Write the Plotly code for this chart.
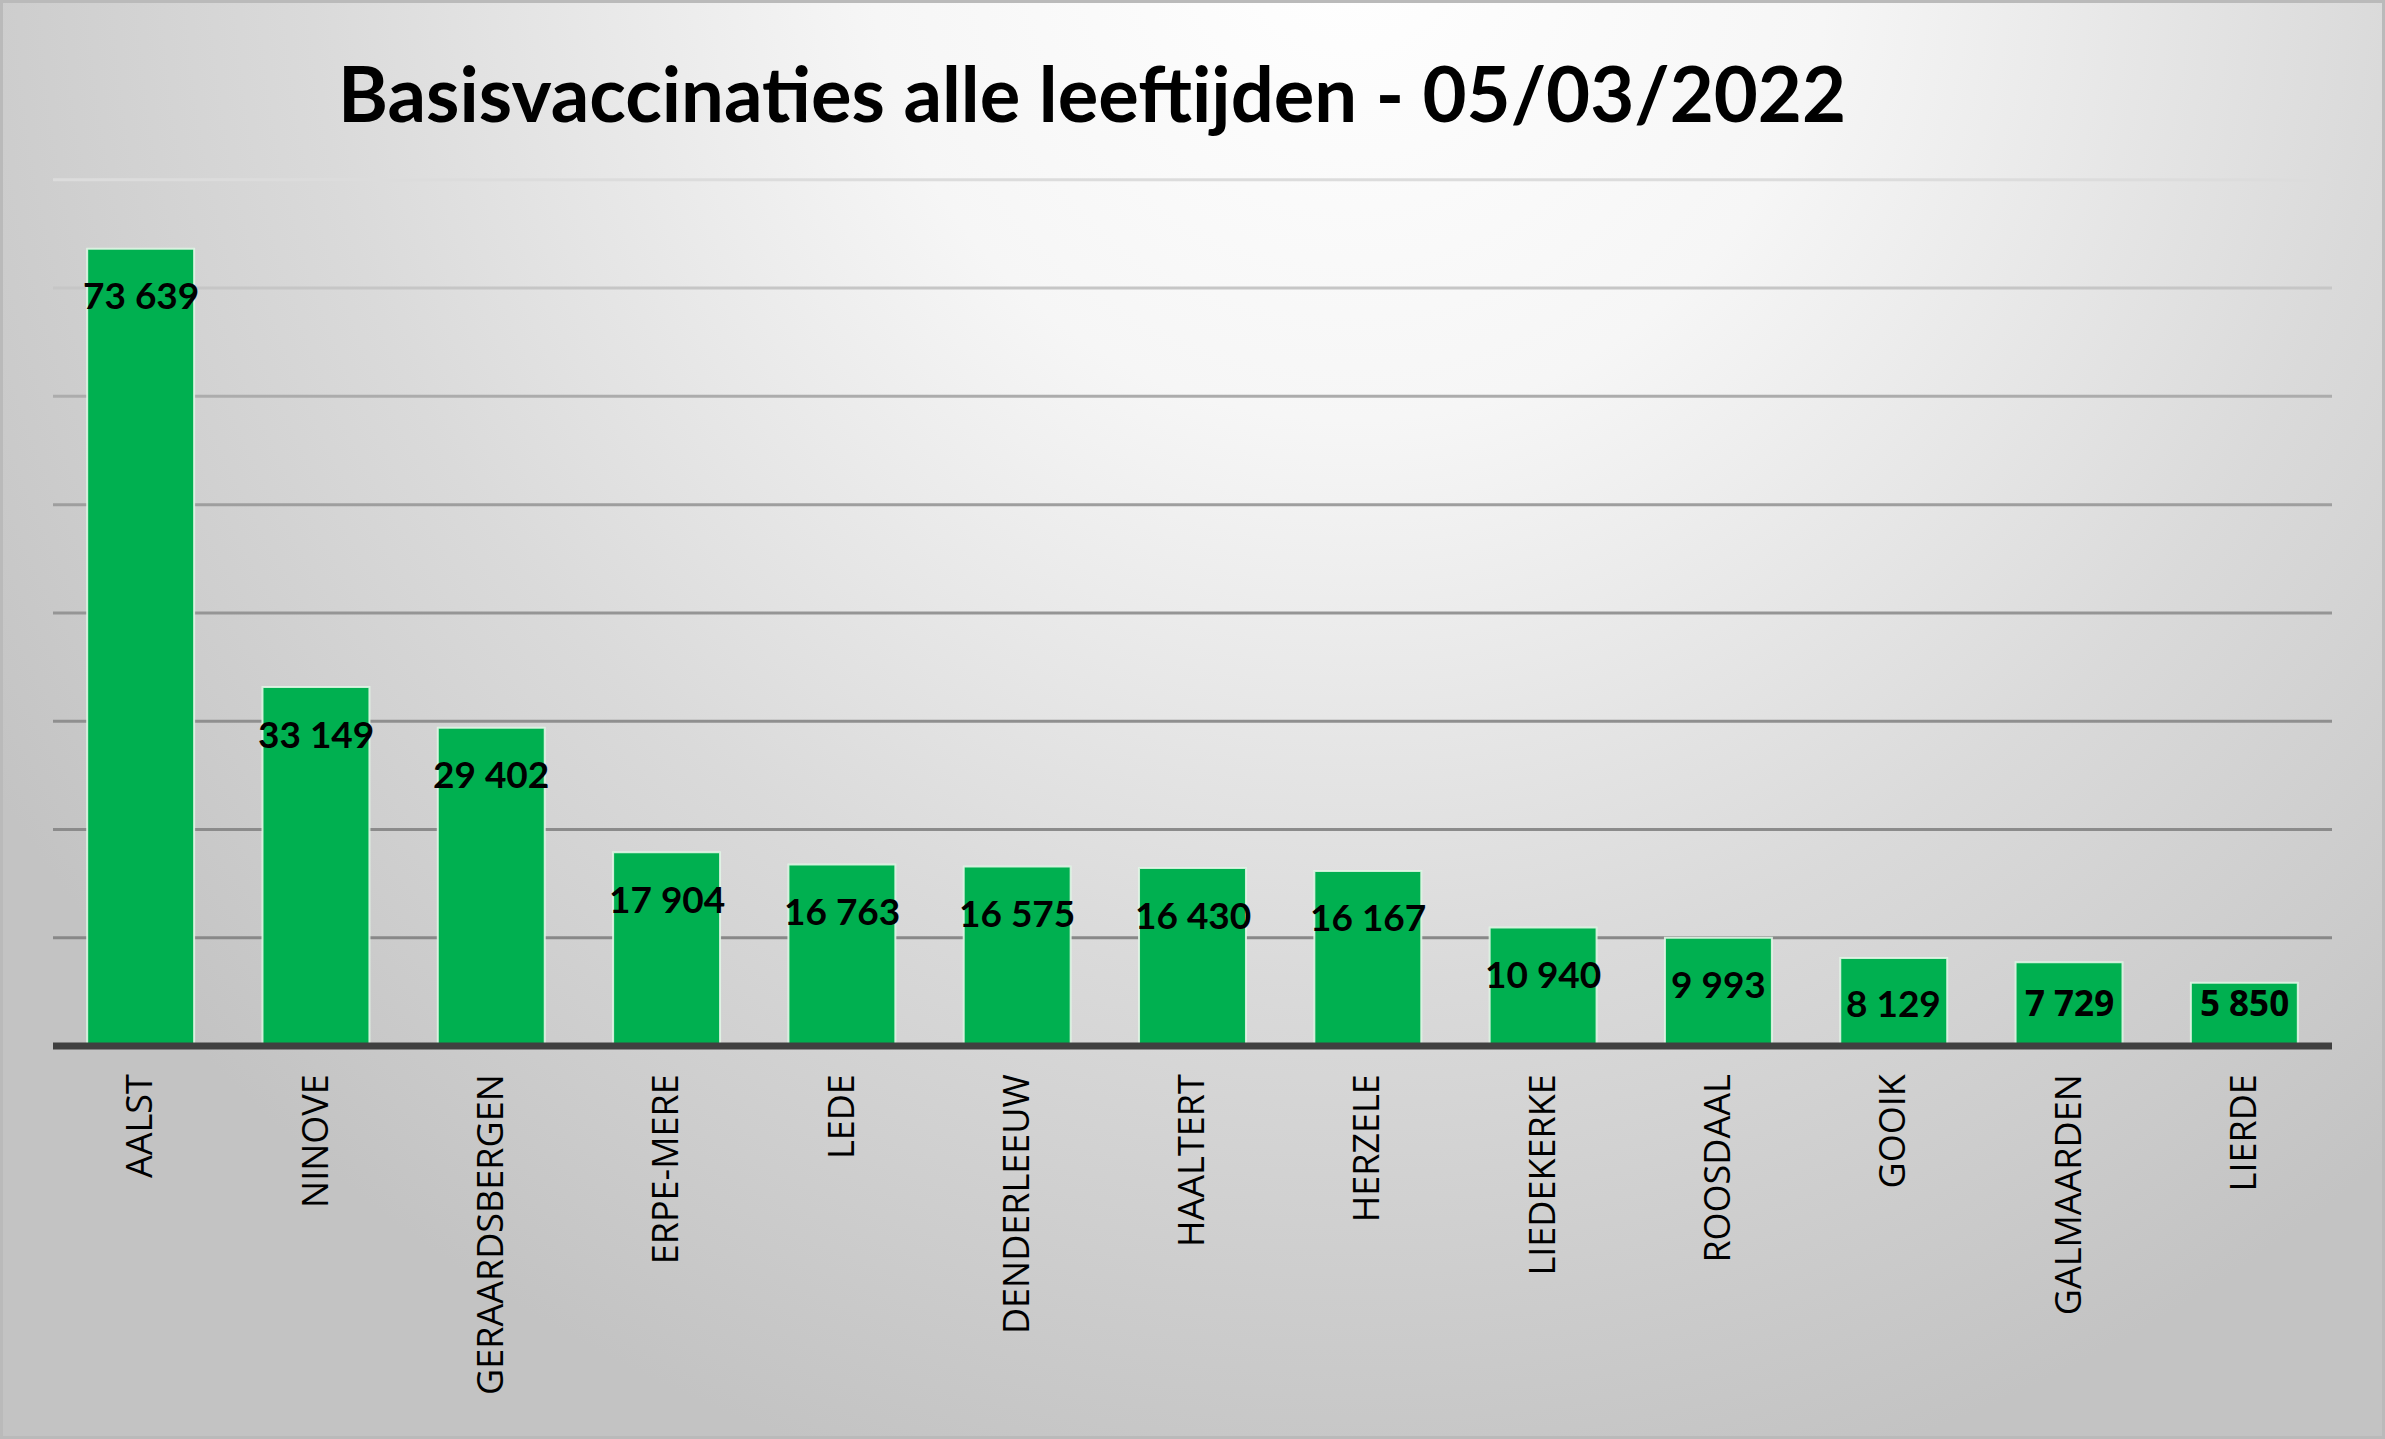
import base64
import plotly.graph_objects as go

# ---------------- data ----------------
gemeenten = ["AALST", "NINOVE", "GERAARDSBERGEN", "ERPE-MERE", "LEDE", "DENDERLEEUW",
             "HAALTERT", "HERZELE", "LIEDEKERKE", "ROOSDAAL", "GOOIK", "GALMAARDEN", "LIERDE"]
vaccinaties = [73639, 33149, 29402, 17904, 16763, 16575, 16430, 16167, 10940, 9993, 8129, 7729, 5850]
y_ticks = [10000, 20000, 30000, 40000, 50000, 60000, 70000, 80000]
titel = "Basisvaccinaties alle leeftijden - 05/03/2022"

# ---------------- styling ----------------
W, H = 2385, 1439
ML, MR, MT, MB = 53, 53, 169, 393
PW, PH = W - ML - MR, H - MT - MB
grid_colors = ["#888888", "#8b8b8b", "#8f8f8f", "#959595", "#9e9e9e", "#acacac", "#c6c6c6", "#dcdcdc"]
label_fonts = ["Lato"] * 11 + ["Open Sans", "Open Sans"]
label_sizes = [37] * 11 + [35, 35]

svg = f'''<svg xmlns="http://www.w3.org/2000/svg" width="{W}" height="{H}" viewBox="0 0 {W} {H}" preserveAspectRatio="none">
<defs><radialGradient id="g" gradientUnits="userSpaceOnUse" cx="1350" cy="-60" r="1600">
<stop offset="0" stop-color="#ffffff"/><stop offset="0.3" stop-color="#f6f6f6"/>
<stop offset="0.65" stop-color="#dadada"/><stop offset="1" stop-color="#c3c3c3"/></radialGradient></defs>
<rect x="0" y="0" width="{W}" height="{H}" fill="url(#g)" stroke="#bababa" stroke-width="6"/>
</svg>'''
bg_src = "data:image/svg+xml;base64," + base64.b64encode(svg.encode()).decode()

fig = go.Figure()
fig.add_trace(go.Bar(
    x=gemeenten, y=vaccinaties,
    marker=dict(color="#00B050", line=dict(color="rgba(225,245,230,0.9)", width=2)),
    hoverinfo="x+y",
))

# data labels (inside end of bars)
annotations = []
for g, v, f, s in zip(gemeenten, vaccinaties, label_fonts, label_sizes):
    annotations.append(dict(
        x=g, y=max(v - 4244, 4059), xref="x", yref="y",
        text=f"{v:,}".replace(",", " "), showarrow=False,
        xanchor="center", yanchor="middle",
        font=dict(family=f, size=s, color="black", weight="bold"),
    ))

shapes = []
for t, c in zip(y_ticks, grid_colors):
    shapes.append(dict(type="line", xref="paper", yref="y", x0=0, x1=1, y0=t, y1=t,
                       line=dict(color=c, width=3), layer="below"))
# baseline (x axis line), paper-referenced so it is not clipped
shapes.append(dict(type="line", xref="paper", yref="paper", x0=0, x1=1, y0=0, y1=0,
                   line=dict(color="#404040", width=7), layer="above"))

fig.update_layout(
    width=W, height=H, autosize=False,
    margin=dict(l=ML, r=MR, t=MT, b=MB, pad=0),
    paper_bgcolor="white", plot_bgcolor="rgba(0,0,0,0)",
    bargap=0.39, showlegend=False,
    title=dict(text=titel, x=1092 / W, xanchor="center", xref="container",
               y=1 - 95 / H, yanchor="middle", yref="container",
               font=dict(family="Lato", size=76, color="black", weight="bold")),
    annotations=annotations, shapes=shapes,
    images=[dict(source=bg_src, xref="paper", yref="paper", x=-ML / PW, y=1 + MT / PH,
                 sizex=W / PW, sizey=H / PH, xanchor="left", yanchor="top",
                 sizing="stretch", layer="below")],
    xaxis=dict(showline=False, showgrid=False, zeroline=False, ticks="",
               tickangle=-90, tickfont=dict(family="Open Sans", size=36, color="black"),
               ticklabelstandoff=20),
    yaxis=dict(range=[0, 81000], showgrid=False, zeroline=False, showline=False,
               showticklabels=False, ticks=""),
)

fig.write_html("out.html", config={"displayModeBar": False},
               post_script="document.body.style.margin='0';document.body.style.overflow='hidden';")
